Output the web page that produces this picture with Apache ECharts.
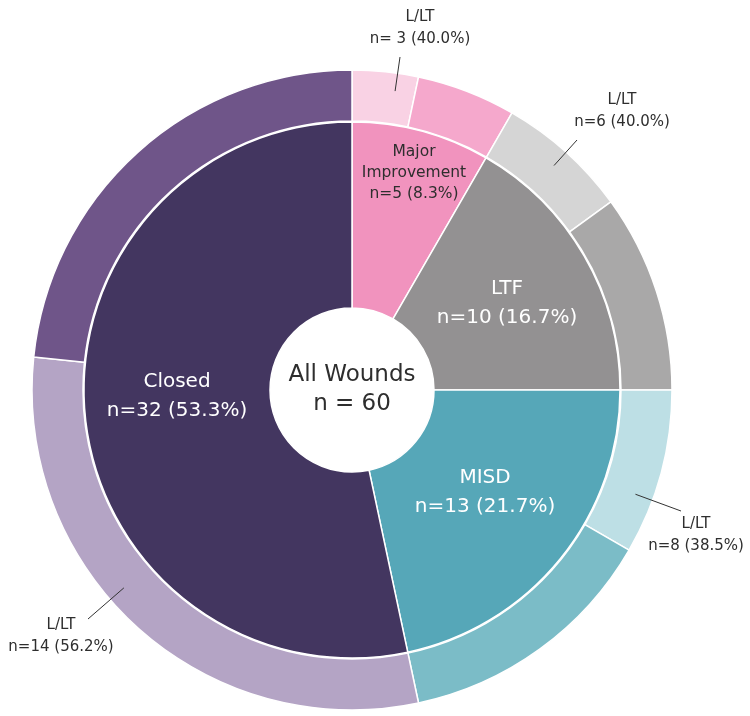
<!DOCTYPE html>
<html><head><meta charset="utf-8">
<script src="https://cdn.jsdelivr.net/npm/echarts@6/dist/echarts.min.js"></script>
<style>html,body{margin:0;padding:0;background:#fff}#c{width:750px;height:716px}</style>
</head><body><div id="c"></div>
<script>
// ---- data ----
const categories = ['Major Improvement', 'LTF', 'MISD', 'Closed'];
const innerNames = ['Major\nImprovement', 'LTF', 'MISD', 'Closed'];
const counts = [5, 10, 13, 32];
const countPct = ['8.3%', '16.7%', '21.7%', '53.3%'];
const lltName = 'L/LT';
const lltCounts = [3, 6, 8, 14];
const lltPct = [40.0, 40.0, 38.5, 56.2];
const lltText = ['n= 3 (40.0%)', 'n=6 (40.0%)', 'n=8 (38.5%)', 'n=14 (56.2%)'];
const totalCount = 60;
const centerTitle = 'All Wounds';

// ---- style ----
const innerColors = ['#F193BE', '#939192', '#56A7B8', '#433660'];
const lltColors = ['#F9D2E4', '#D5D5D5', '#BDDFE5', '#B4A4C5'];
const restColors = ['#F5A8CC', '#A9A8A8', '#7BBCC7', '#6F5589'];
const CX = 352, CY = 390;
const FONT = 'DejaVu Sans';
const DARK = '#2e2e2e';
const innerLabelPos = [[414, 173], [507, 303], [485, 492], [177, 396]];
const outerLabelPos = [[420, 28], [622, 111], [696, 535], [61, 636]];
const outerLineEnd = [[400, 57], [577, 140], [681, 511], [88, 619]];
const lineStartR = 302;

const innerData = categories.map((c, i) => ({
  name: c,
  value: counts[i],
  itemStyle: { color: innerColors[i] },
  label: i === 0
    ? { color: DARK, fontSize: 15.5, lineHeight: 21 }
    : { color: '#ffffff', fontSize: 20, lineHeight: 29 }
}));

function buildOuter(withLabels) {
  const out = [];
  categories.forEach((c, i) => {
    const llt = counts[i] * lltPct[i] / 100;
    out.push({
      name: lltName, value: llt, cat: i,
      itemStyle: withLabels ? { color: 'rgba(0,0,0,0)' } : { color: lltColors[i] },
      label: { show: withLabels }, labelLine: { show: withLabels }
    });
    out.push({
      name: c + ' other', value: counts[i] - llt, cat: i,
      itemStyle: withLabels ? { color: 'rgba(0,0,0,0)' } : { color: restColors[i] },
      label: { show: false }, labelLine: { show: false }
    });
  });
  return out;
}

const chart = echarts.init(document.getElementById('c'), null, { renderer: 'canvas' });
chart.setOption({
  animation: false,
  backgroundColor: '#ffffff',
  series: [
    {
      type: 'pie', name: 'outer', silent: true,
      center: [CX, CY], radius: [269, 320], startAngle: 90, clockwise: true,
      avoidLabelOverlap: false,
      itemStyle: { borderColor: '#ffffff', borderWidth: 1.5 },
      label: { show: false }, labelLine: { show: false },
      data: buildOuter(false)
    },
    {
      type: 'pie', name: 'outerLabels', silent: true, z: 5,
      center: [CX, CY], radius: [269, 320], startAngle: 90, clockwise: true,
      avoidLabelOverlap: false,
      itemStyle: { borderWidth: 0 },
      label: {
        position: 'outside', fontFamily: FONT, fontSize: 15, lineHeight: 22, color: DARK,
        formatter: p => lltName + '\n' + lltText[p.data.cat]
      },
      labelLine: { length: 20, length2: 0, lineStyle: { color: '#333333', width: 1 } },
      labelLayout: function (p) {
        if (p.dataIndex % 2 === 1) return {};
        const i = Math.floor(p.dataIndex / 2);
        const e = outerLineEnd[i];
        const dx = e[0] - CX, dy = e[1] - CY, d = Math.sqrt(dx * dx + dy * dy);
        const s = [CX + dx / d * lineStartR, CY + dy / d * lineStartR];
        return {
          x: outerLabelPos[i][0], y: outerLabelPos[i][1],
          align: 'center', verticalAlign: 'middle',
          labelLinePoints: [s, e]
        };
      },
      data: buildOuter(true)
    },
    {
      type: 'pie', name: 'inner', silent: true,
      center: [CX, CY], radius: [82, 268], startAngle: 90, clockwise: true,
      avoidLabelOverlap: false,
      itemStyle: { borderColor: '#ffffff', borderWidth: 1.5 },
      label: {
        position: 'inside', fontFamily: FONT,
        formatter: p => innerNames[p.dataIndex] + '\nn=' + counts[p.dataIndex] + ' (' + countPct[p.dataIndex] + ')'
      },
      labelLine: { show: false },
      labelLayout: function (p) {
        const q = innerLabelPos[p.dataIndex];
        return { x: q[0], y: q[1], align: 'center', verticalAlign: 'middle' };
      },
      data: innerData
    },
    {
      type: 'pie', name: 'center', silent: true,
      center: [CX, CY], radius: [0, 81],
      itemStyle: { color: '#ffffff' },
      label: {
        position: 'center', fontFamily: FONT, fontSize: 23, lineHeight: 29, color: DARK,
        formatter: () => centerTitle + '\nn = ' + totalCount
      },
      labelLine: { show: false },
      data: [{ name: centerTitle, value: totalCount }]
    }
  ]
});
</script>
</body></html>
